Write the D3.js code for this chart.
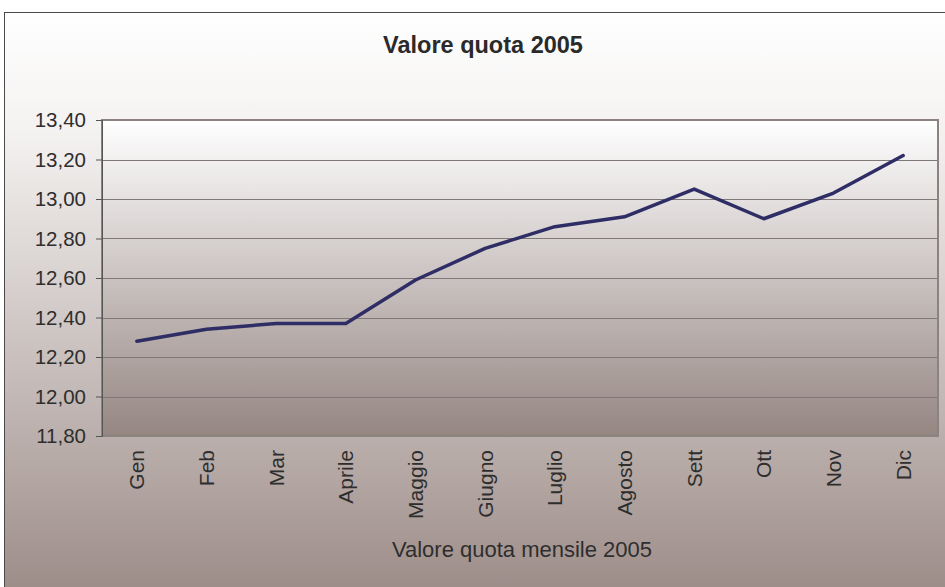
<!DOCTYPE html>
<html>
<head>
<meta charset="utf-8">
<script src="https://cdn.jsdelivr.net/npm/d3@7"></script>
<style>
  html, body { margin: 0; padding: 0; background: #ffffff; }
  svg { display: block; font-family: "Liberation Sans", Arial, sans-serif; }
</style>
</head>
<body>
<div id="chart"></div>
<script>
// ========= DATA =========
const MESI = ["Gen", "Feb", "Mar", "Aprile", "Maggio", "Giugno", "Luglio", "Agosto", "Sett", "Ott", "Nov", "Dic"];
const VALORI = [12.28, 12.34, 12.37, 12.37, 12.59, 12.75, 12.86, 12.91, 13.05, 12.90, 13.03, 13.22];
const Y_TICKS = [11.80, 12.00, 12.20, 12.40, 12.60, 12.80, 13.00, 13.20, 13.40];
const TITOLO = "Valore quota 2005";
const TITOLO_X = "Valore quota mensile 2005";

// ========= LAYOUT =========
const width = 945, height = 587;
const plot = { left: 102, right: 938, top: 120, bottom: 436 };

const svg = d3.select("#chart").append("svg")
  .attr("width", width)
  .attr("height", height);

const defs = svg.append("defs");

// sfondo esterno
const gOut = defs.append("linearGradient").attr("id", "bgOut")
  .attr("x1", 0).attr("y1", 0).attr("x2", 0).attr("y2", 1);
gOut.append("stop").attr("offset", "0%").attr("stop-color", "#ffffff");
gOut.append("stop").attr("offset", "20%").attr("stop-color", "#f4f2f1");
gOut.append("stop").attr("offset", "100%").attr("stop-color", "#9a8985");

// sfondo area grafico
const gIn = defs.append("linearGradient").attr("id", "bgIn")
  .attr("x1", 0).attr("y1", 0).attr("x2", 0).attr("y2", 1);
gIn.append("stop").attr("offset", "0%").attr("stop-color", "#ffffff");
gIn.append("stop").attr("offset", "100%").attr("stop-color", "#958682");

svg.append("rect")
  .attr("x", 4.5).attr("y", 12.5)
  .attr("width", width + 10).attr("height", height + 10)
  .attr("fill", "url(#bgOut)")
  .attr("stroke", "#4a4a4a")
  .attr("stroke-width", 1);

// ========= SCALES =========
const x = d3.scaleBand().domain(MESI).range([plot.left, plot.right]);
const y = d3.scaleLinear().domain([11.80, 13.40]).range([plot.bottom, plot.top]);

const fmt = v => d3.format(".2f")(v).replace(".", ",");

svg.append("rect")
  .attr("x", plot.left).attr("y", plot.top)
  .attr("width", plot.right - plot.left).attr("height", plot.bottom - plot.top)
  .attr("fill", "url(#bgIn)");

// griglia
svg.append("g")
  .selectAll("line")
  .data(Y_TICKS)
  .join("line")
  .attr("x1", plot.left).attr("x2", plot.right)
  .attr("y1", d => Math.round(y(d)) + 0.5).attr("y2", d => Math.round(y(d)) + 0.5)
  .attr("stroke", "#807876")
  .attr("stroke-width", 1);

// bordo area
svg.append("rect")
  .attr("x", plot.left).attr("y", plot.top)
  .attr("width", plot.right - plot.left).attr("height", plot.bottom - plot.top)
  .attr("fill", "none")
  .attr("stroke", "#8c8280")
  .attr("stroke-width", 2);

// asse y
const yAxis = svg.append("g")
  .attr("transform", `translate(${plot.left},0)`)
  .call(d3.axisLeft(y).tickValues(Y_TICKS).tickFormat(fmt).tickSize(6).tickPadding(10));
yAxis.select(".domain").attr("stroke", "#555");
yAxis.selectAll(".tick line").attr("stroke", "#555");
yAxis.selectAll("text").attr("font-size", 20.5).attr("fill", "#2e2e2e").attr("font-family", "Liberation Sans, Arial, sans-serif");

// asse x (solo etichette)
const xAxis = svg.append("g")
  .attr("transform", `translate(0,${plot.bottom})`)
  .call(d3.axisBottom(x).tickSize(0).tickPadding(0));
xAxis.select(".domain").remove();
xAxis.selectAll("text")
  .attr("font-size", 21)
  .attr("fill", "#2e2e2e")
  .attr("font-family", "Liberation Sans, Arial, sans-serif")
  .attr("transform", "rotate(-90)")
  .attr("text-anchor", "end")
  .attr("x", -14)
  .attr("y", 0)
  .attr("dy", "0.35em");

// linea
const line = d3.line()
  .x((d, i) => x(MESI[i]) + x.bandwidth() / 2)
  .y(d => y(d));

svg.append("path")
  .datum(VALORI)
  .attr("d", line)
  .attr("fill", "none")
  .attr("stroke", "#2e2d66")
  .attr("stroke-width", 3.5)
  .attr("stroke-linejoin", "round")
  .attr("stroke-linecap", "round");

// titoli
svg.append("text")
  .attr("x", 483).attr("y", 53)
  .attr("text-anchor", "middle")
  .attr("font-size", 23.5)
  .attr("font-weight", "bold")
  .attr("fill", "#2a2a2a")
  .text(TITOLO);

svg.append("text")
  .attr("x", 522).attr("y", 557)
  .attr("text-anchor", "middle")
  .attr("font-size", 22)
  .attr("fill", "#2e2e2e")
  .text(TITOLO_X);
</script>
</body>
</html>
